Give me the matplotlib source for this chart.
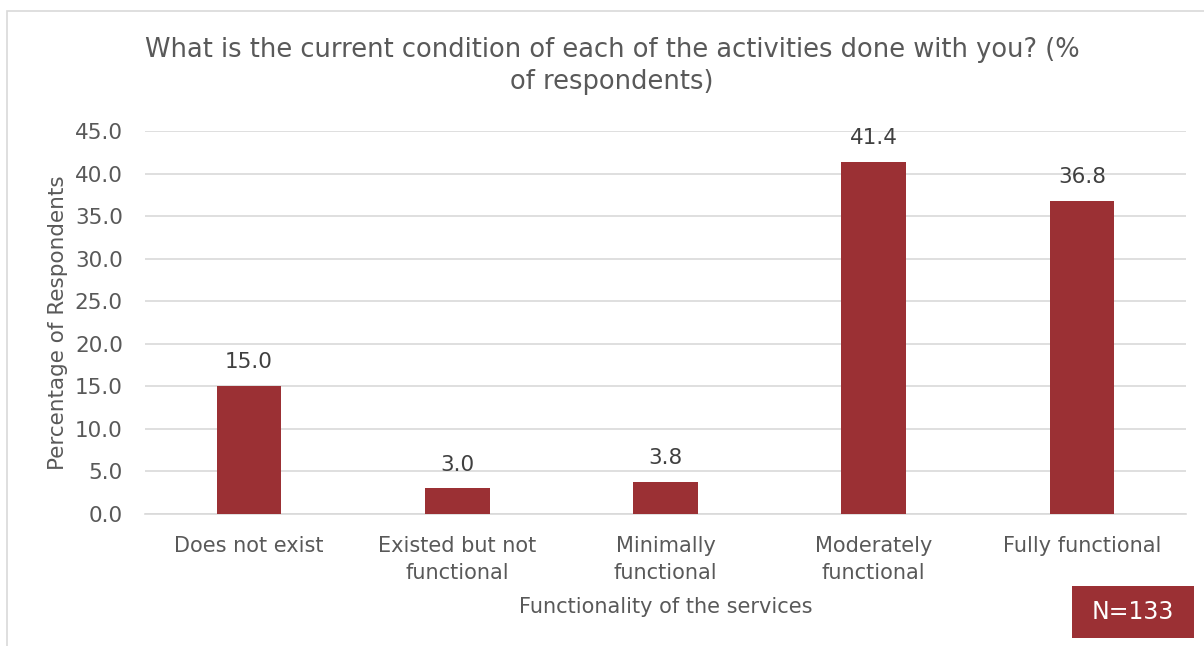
import matplotlib
matplotlib.use("Agg")
import matplotlib.pyplot as plt
from matplotlib.patches import Rectangle

categories = ["Does not exist", "Existed but not\nfunctional", "Minimally\nfunctional",
              "Moderately\nfunctional", "Fully functional"]
values = [15.0, 3.0, 3.8, 41.4, 36.8]
yticks = [0, 5, 10, 15, 20, 25, 30, 35, 40, 45]

title = "What is the current condition of each of the activities done with you? (%\nof respondents)"
xlabel = "Functionality of the services"
ylabel = "Percentage of Respondents"
note = "N=133"

bar_color = "#9b3034"
text_color = "#595959"
grid_color = "#d9d9d9"

W, H = 1204, 646
fig = plt.figure(figsize=(W / 100, H / 100), dpi=100)
plt.rcParams['font.family'] = ['DejaVu Sans']

# chart border
fig.patches.append(Rectangle((7 / W, -0.1), 1.5, (H - 11) / H + 0.1, transform=fig.transFigure,
                             fill=False, edgecolor="#d9d9d9", linewidth=1.2))

ax = fig.add_axes([145 / W, 1 - 514 / H, (1186 - 145) / W, (514 - 131) / H])
x = list(range(len(categories)))
bars = ax.bar(x, values, width=0.31, color=bar_color, zorder=3)
ax.set_xlim(-0.5, len(categories) - 0.5)
ax.set_ylim(0, 45)
ax.set_yticks(yticks)
ax.set_yticklabels([f"{v:.1f}" for v in yticks], color=text_color, fontsize=15.5)
ax.set_xticks(x)
ax.set_xticklabels(categories, color=text_color, fontsize=15, linespacing=1.4)
ax.tick_params(axis="y", length=0, pad=16)
ax.tick_params(axis="x", length=0, pad=16)
ax.grid(axis="y", color=grid_color, linewidth=1.2, zorder=0)
for s in ["top", "right", "left"]:
    ax.spines[s].set_visible(False)
ax.spines["bottom"].set_color(grid_color)
ax.spines["bottom"].set_linewidth(1.2)

for b, v in zip(bars, values):
    ax.annotate(f"{v:.1f}", (b.get_x() + b.get_width() / 2, v), xytext=(0, 10),
                textcoords="offset points", ha="center", va="bottom",
                color="#404040", fontsize=15.5)

ax.set_xlabel(xlabel, color=text_color, fontsize=15, labelpad=10)
ax.set_ylabel(ylabel, color=text_color, fontsize=15.5, labelpad=5)

fig.text(612 / W, 1 - 66 / H, title, ha="center", va="center", color=text_color,
         fontsize=18.5, linespacing=1.3)

# N box
fig.patches.append(Rectangle((1072 / W, 1 - 638 / H), (1194 - 1072) / W, (638 - 586) / H,
                             transform=fig.transFigure, facecolor="#9b3034", edgecolor="none"))
fig.text(1133 / W, 1 - 612 / H, note, ha="center", va="center", color="white", fontsize=17)

fig.savefig("out.png", dpi=100)
